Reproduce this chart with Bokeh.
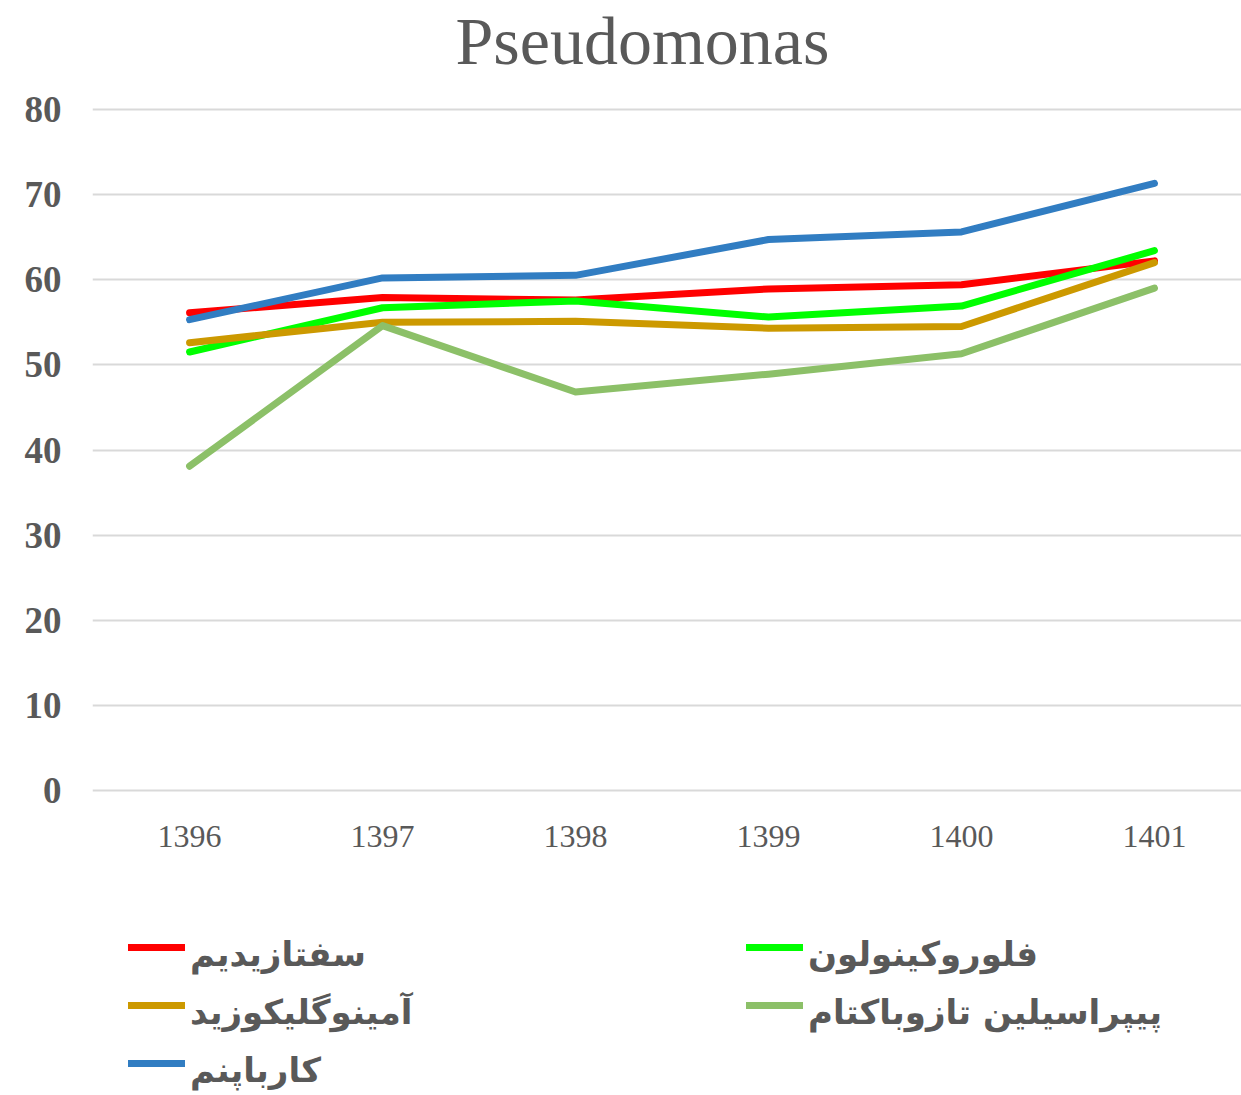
from bokeh.plotting import figure
from bokeh.models import Range1d, FixedTicker, Legend, LegendItem, Label
from bokeh.layouts import column
from bokeh.embed import file_html
from bokeh.resources import INLINE

years = [1396, 1397, 1398, 1399, 1400, 1401]
ceftazidime = [56.1, 57.9, 57.6, 58.9, 59.4, 62.2]
fluoroquinolone = [51.5, 56.7, 57.5, 55.6, 56.9, 63.4]
aminoglycoside = [52.6, 55.0, 55.1, 54.3, 54.5, 62.0]
pip_tazo = [38.1, 54.6, 46.8, 48.9, 51.3, 59.0]
carbapenem = [55.3, 60.2, 60.5, 64.7, 65.6, 71.3]

title_text = "Pseudomonas"
names = ["سفتازیدیم", "فلوروکینولون", "آمینوگلیکوزید", "پیپراسیلین تازوباکتام", "کارباپنم"]
colors = ["#FF0000", "#00FF00", "#CC9900", "#8CC068", "#317DC2"]
y_ticks = [0, 10, 20, 30, 40, 50, 60, 70, 80]
series = [ceftazidime, fluoroquinolone, aminoglycoside, pip_tazo, carbapenem]

W = 1241
GREY = "#595959"
LEFT = 92  # frames of the stacked figures share this left border

# ---- header with title ----
head = figure(width=W, height=85, output_backend="svg", toolbar_location=None,
              x_range=Range1d(0, 1), y_range=Range1d(0, 1),
              x_axis_type=None, y_axis_type=None, min_border=0)
head.outline_line_color = None
head.grid.grid_line_color = None
head.add_layout(Label(x=642 - LEFT, y=45, x_units="screen", y_units="screen", text=title_text,
                      text_font="Liberation Serif", text_font_size="68px",
                      text_color=GREY, text_align="center", text_baseline="alphabetic"))

# ---- main chart ----
p = figure(width=W, height=815, output_backend="svg", toolbar_location=None,
           x_range=Range1d(1395.497, 1401.451), y_range=Range1d(-0.2, 80.2),
           min_border_left=LEFT, min_border_right=0, min_border_top=22, min_border_bottom=108)
p.outline_line_color = None
p.xgrid.grid_line_color = None
p.ygrid.grid_line_color = "#D9D9D9"
p.ygrid.grid_line_width = 2

p.xaxis.ticker = FixedTicker(ticks=years)
p.yaxis.ticker = FixedTicker(ticks=y_ticks)
for ax in (p.xaxis, p.yaxis):
    ax.axis_line_color = None
    ax.major_tick_line_color = None
    ax.minor_tick_line_color = None
    ax.major_label_text_font = "Liberation Serif"
    ax.major_label_text_color = GREY
p.xaxis.major_label_text_font_size = "32px"
p.xaxis.major_label_standoff = 27
p.yaxis.major_label_text_font_size = "37px"
p.yaxis.major_label_text_font_style = "bold"
p.yaxis.major_label_standoff = 25

for vals, col in zip(series, colors):
    p.line(years, vals, line_color=col, line_width=7, line_cap="round", line_join="round")

# ---- legend area ----
leg = figure(width=W, height=194, output_backend="svg", toolbar_location=None,
             x_range=Range1d(1395.497, 1401.451), y_range=Range1d(-0.2, 80.2),
             x_axis_type=None, y_axis_type=None, min_border=0)
leg.outline_line_color = None
leg.grid.grid_line_color = None
glyph_r = []
text_r = []
for vals, col in zip(series, colors):
    glyph_r.append(leg.line(years, vals, line_color=col, line_width=7, line_cap="round", visible=False))
    text_r.append(leg.line(years, vals, line_color=col, line_alpha=0, visible=False))

def make_legend(idx, loc, rends, with_text):
    lg = Legend(items=[LegendItem(label=(names[i] if with_text else " "), renderers=[rends[i]]) for i in idx],
                location=loc, orientation="vertical", click_policy="none")
    lg.label_text_font = "DejaVu Sans"
    lg.label_text_font_style = "bold"
    lg.label_text_font_size = "34px"
    lg.label_text_color = GREY
    lg.glyph_width = 57
    lg.glyph_height = 24
    lg.label_height = 40
    lg.label_standoff = 5
    lg.spacing = 18
    lg.padding = 0
    lg.margin = 0
    lg.border_line_alpha = 0
    lg.background_fill_alpha = 0
    return lg

# line samples
leg.add_layout(make_legend([0, 2, 4], (128 - LEFT, 11), glyph_r, False))
leg.add_layout(make_legend([1, 3], (746 - LEFT, 69), glyph_r, False))
# labels
leg.add_layout(make_legend([0, 2, 4], (128 - LEFT, 4), text_r, True))
leg.add_layout(make_legend([1, 3], (746 - LEFT, 62), text_r, True))

page = column(head, p, leg, spacing=0)
open("out.html", "w").write(file_html(page, INLINE))
